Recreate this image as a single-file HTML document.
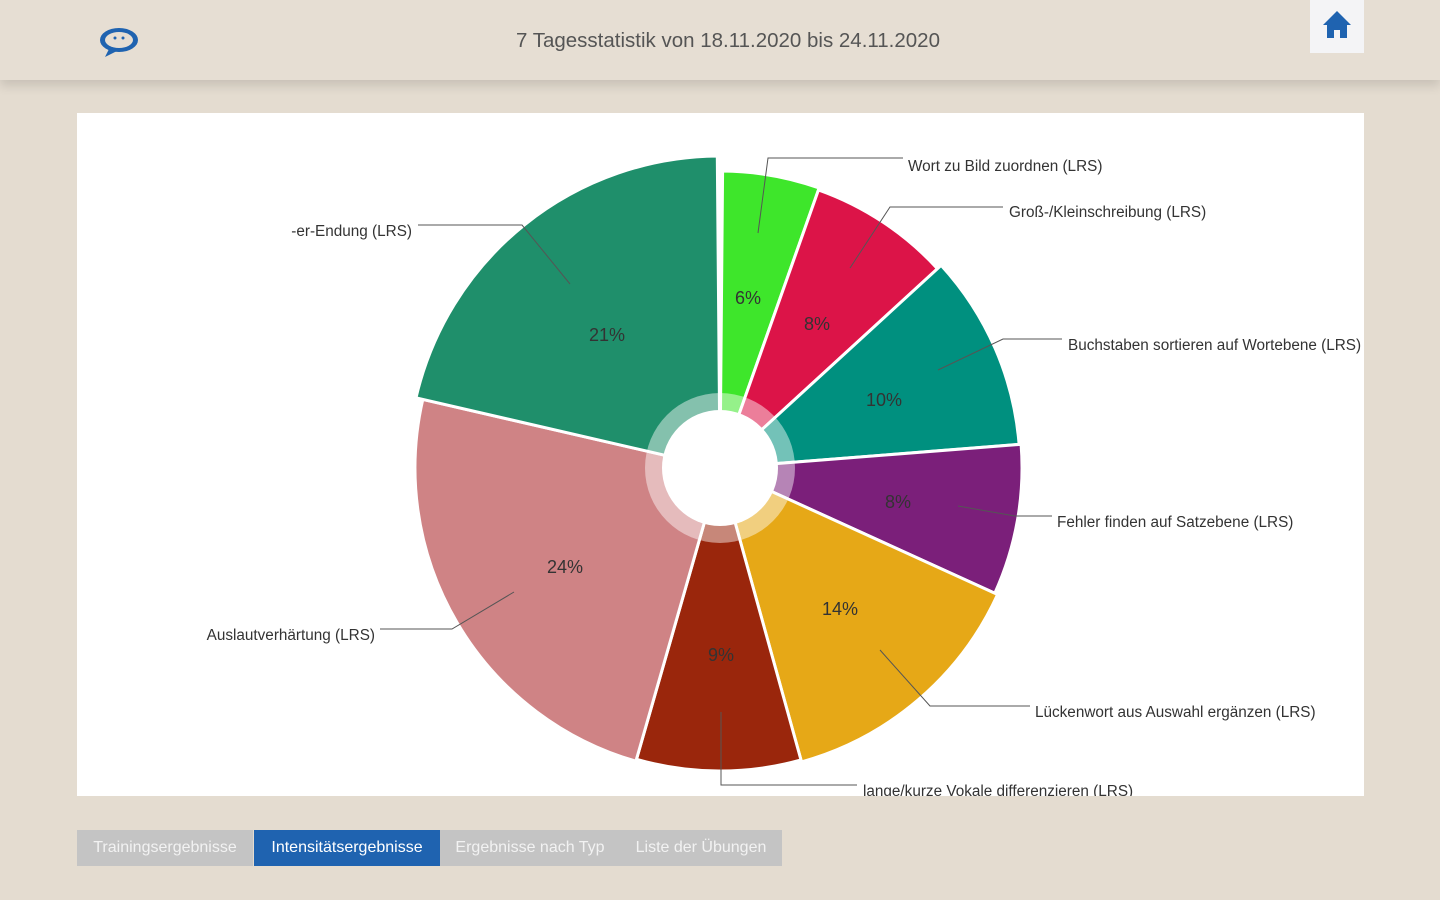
<!DOCTYPE html>
<html><head><meta charset="utf-8"><style>
body{margin:0;width:1440px;height:900px;background:#e4dcd0;font-family:"Liberation Sans",sans-serif;position:relative;overflow:hidden}
.hdr{position:absolute;left:0;top:0;width:1440px;height:80px;background:#e6ded3;box-shadow:0 6px 10px rgba(0,0,0,0.12)}
.title{position:absolute;left:0;width:1456px;top:29px;text-align:center;font-size:20.5px;color:#555}
.home{position:absolute;left:1310px;top:0;width:54px;height:53px;background:#f4f4f6}
.chart{position:absolute;left:77px;top:113px;width:1287px;height:683px;background:#fff;overflow:hidden}
.tab{position:absolute;top:830px;height:36px;line-height:36px;font-size:16px;color:#f2f2f2;text-align:center;background:#c4c4c4}
</style></head><body>
<div class="hdr"></div>
<svg style="position:absolute;left:97px;top:25px" width="46" height="34" viewBox="0 0 46 34">
<ellipse cx="22" cy="15" rx="19" ry="12" fill="#1f63b0"/><ellipse cx="22" cy="15" rx="14" ry="8" fill="#e6ded3"/>
<path d="M12 24 L8 32 L20 26Z" fill="#1f63b0"/><circle cx="18" cy="13" r="1.5" fill="#1f63b0"/><circle cx="26" cy="13" r="1.5" fill="#1f63b0"/></svg>
<div class="title">7 Tagesstatistik von 18.11.2020 bis 24.11.2020</div>
<div class="home"><svg width="54" height="53" viewBox="0 0 54 53"><path d="M27 11 L13 25 L17 25 L17 38 L24 38 L24 30 L30 30 L30 38 L37 38 L37 25 L41 25Z" fill="#1f63b0"/></svg></div>
<div class="chart">
<svg width="1287" height="683" viewBox="77 113 1287 683" style="font-family:'Liberation Sans',sans-serif">
<g stroke="#fff" stroke-width="3">
<path d="M720 468 L722.6 171 A297 297 0 0 1 819.1 188 Z" fill="#3ee62b"/>
<path d="M720 468 L818.5 189.9 A295 295 0 0 1 937.5 268.7 Z" fill="#dc1448"/>
<path d="M720 468 L941.2 265.3 A300 300 0 0 1 1019.1 444.4 Z" fill="#00907f"/>
<path d="M720 468 L1021.1 444.3 A302 302 0 0 1 994.8 593.2 Z" fill="#7b1f7a"/>
<path d="M720 468 L997.6 594.5 A305 305 0 0 1 801.5 761.9 Z" fill="#e6a817"/>
<path d="M720 468 L801 760 A303 303 0 0 1 636.5 759.3 Z" fill="#9a260c"/>
<path d="M720 468 L635.9 761.2 A305 305 0 0 1 422.8 399.4 Z" fill="#cf8385"/>
<path d="M720 468 L416 397.8 A312 312 0 0 1 717.3 156 Z" fill="#1f8f6b"/>
</g>
<circle cx="720" cy="468" r="75" fill="#fff" opacity="0.45"/>
<circle cx="720" cy="468" r="58" fill="#fff"/>
<g fill="none" stroke="#555" stroke-width="1">
<polyline points="758,233 768,158 903,158"/>
<polyline points="850,268 890,207 1003,207"/>
<polyline points="938,370 1003,339 1062,339"/>
<polyline points="958,506 1015,516 1052,516"/>
<polyline points="880,650 930,706 1030,706"/>
<polyline points="721,712 721,785 857,785"/>
<polyline points="514,592 452,629 380,629"/>
<polyline points="570,284 522,225 418,225"/>
</g>
<g font-size="18" fill="#333" text-anchor="middle">
<text x="748" y="304">6%</text><text x="817" y="330">8%</text><text x="884" y="406">10%</text>
<text x="898" y="508">8%</text><text x="840" y="615">14%</text><text x="721" y="661">9%</text>
<text x="565" y="573">24%</text><text x="607" y="341">21%</text>
</g>
<g font-size="15.3" fill="#333">
<text x="908" y="171">Wort zu Bild zuordnen (LRS)</text>
<text x="1009" y="217">Groß-/Kleinschreibung (LRS)</text>
<text x="1068" y="350">Buchstaben sortieren auf Wortebene (LRS)</text>
<text x="1057" y="527">Fehler finden auf Satzebene (LRS)</text>
<text x="1035" y="717">Lückenwort aus Auswahl ergänzen (LRS)</text>
<text x="863" y="796">lange/kurze Vokale differenzieren (LRS)</text>
<text x="375" y="640" text-anchor="end">Auslautverhärtung (LRS)</text>
<text x="412" y="236" text-anchor="end">-er-Endung (LRS)</text>
</g>
</svg>
</div>
<div class="tab" style="left:77px;width:176px">Trainingsergebnisse</div>
<div class="tab" style="left:254px;width:186px;background:#1f63b0;color:#fff">Intensitätsergebnisse</div>
<div class="tab" style="left:440px;width:180px">Ergebnisse nach Typ</div>
<div class="tab" style="left:620px;width:162px">Liste der Übungen</div>
</body></html>
